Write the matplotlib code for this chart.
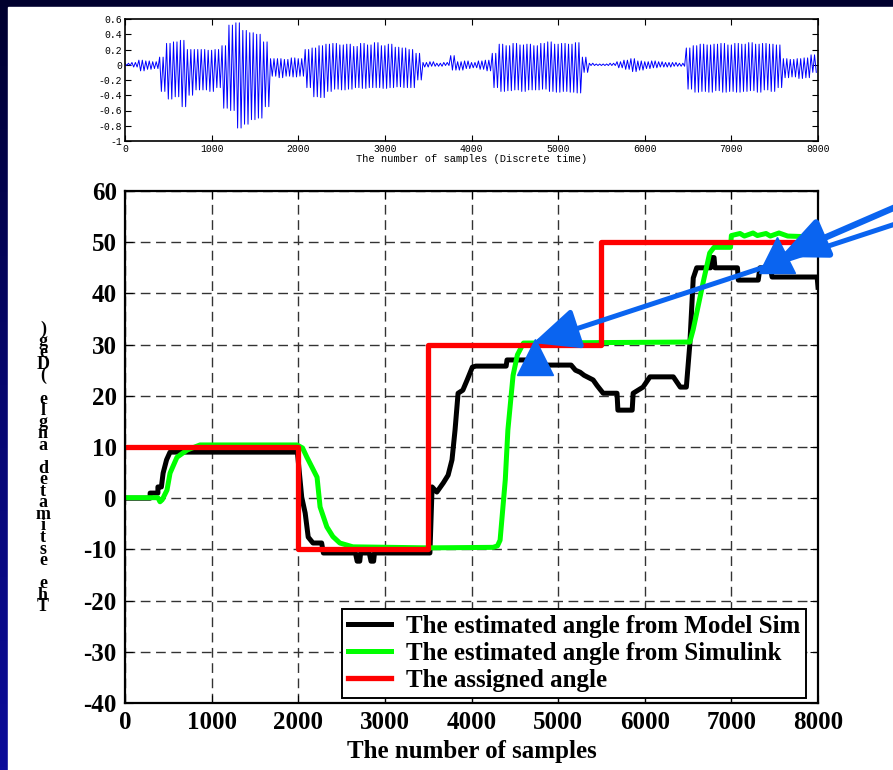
import matplotlib.pyplot as plt
import numpy as np
from matplotlib.patches import Rectangle

plt.rcParams['axes.unicode_minus'] = False

# speech waveform, upper / lower swing per 80-sample block
wave_hi = [0.02, 0.03, 0.06, 0.05, 0.04,
           0.10, 0.28, 0.30, 0.32, 0.20,
           0.20, 0.20, 0.19, 0.20,
           0.25, 0.52, 0.55, 0.45, 0.42, 0.40, 0.30,
           0.08,
           0.08, 0.07, 0.09, 0.08,
           0.20,
           0.22, 0.25, 0.27, 0.28, 0.26, 0.27, 0.24, 0.28, 0.26, 0.29, 0.25, 0.27, 0.23, 0.22, 0.20, 0.15,
           0.03, 0.04, 0.02, 0.03, 0.12,
           0.04, 0.05, 0.03, 0.05, 0.06,
           0.15, 0.27, 0.25, 0.28, 0.26, 0.27, 0.25, 0.28, 0.30, 0.27, 0.28, 0.27, 0.29, 0.10,
           0.02, 0.01, 0.01, 0.02,
           0.04, 0.06, 0.08, 0.05, 0.04, 0.05, 0.04, 0.03, 0.03, 0.02,
           0.22, 0.25, 0.27, 0.26, 0.27, 0.28, 0.26, 0.28, 0.27, 0.29, 0.27, 0.28, 0.27, 0.26,
           0.08, 0.07, 0.08, 0.09, 0.13]
wave_lo = [-0.01, -0.03, -0.08, -0.06, -0.05,
           -0.35, -0.45, -0.42, -0.55, -0.40,
           -0.33, -0.33, -0.35, -0.30,
           -0.57, -0.60, -0.83, -0.78, -0.72, -0.70, -0.55,
           -0.15,
           -0.17, -0.15, -0.16, -0.15,
           -0.30,
           -0.42, -0.43, -0.35, -0.32, -0.33, -0.32, -0.30, -0.31, -0.30, -0.30, -0.31, -0.30, -0.29, -0.30, -0.30, -0.20,
           -0.03, -0.02, -0.02, -0.01, -0.07,
           -0.07, -0.05, -0.04, -0.06, -0.08,
           -0.30, -0.35, -0.34, -0.33, -0.35, -0.33, -0.33, -0.32, -0.35, -0.36, -0.35, -0.36, -0.37, -0.10,
           -0.01, -0.01, -0.01, -0.01,
           -0.04, -0.06, -0.09, -0.07, -0.05, -0.04, -0.03, -0.03, -0.02, -0.02,
           -0.32, -0.36, -0.35, -0.36, -0.34, -0.36, -0.35, -0.36, -0.35, -0.34, -0.36, -0.33, -0.35, -0.30,
           -0.17, -0.16, -0.18, -0.17, -0.10]
block = 80

# estimated angle from ModelSim
ms_x = [0, 290, 290, 380, 380, 420, 440, 480, 520, 1990, 2040, 2080, 2115, 2170, 2270, 2290,
        2660, 2680, 2710, 2720, 2820, 2840, 2870, 2880, 3520, 3545, 3600, 3675, 3730, 3775,
        3810, 3845, 3900, 3950, 4010, 4050, 4400, 4410, 4800, 4810, 5150, 5200, 5254, 5300,
        5404, 5450, 5520, 5680, 5690, 5855, 5866, 5980, 6060, 6330, 6410, 6480, 6520, 6560,
        6600, 6760, 6770, 6800, 6810, 7070, 7080, 7310, 7330, 7450, 7470, 7990, 8000]
ms_y = [0, 0, 1, 1, 2.2, 2.2, 4.9, 7.5, 9, 9, 0.2, -2.9, -7.6, -8.75, -8.75, -10.7,
        -10.7, -12.3, -12.3, -10.7, -10.7, -12.3, -12.3, -10.7, -10.7, 2.2, 1.2, 3, 4.5, 7.5,
        13.3, 20.5, 21.1, 23.1, 25.6, 25.8, 25.8, 27, 27, 26, 26, 25, 24.6, 24,
        23.1, 22, 20.5, 20.5, 17.2, 17.2, 20.5, 21.7, 23.7, 23.7, 21.7, 21.7, 30, 43,
        45, 45, 47, 47, 45, 45, 42.6, 42.6, 45, 45, 43.2, 43.2, 41.2]

# estimated angle from Simulink
sl_x = [0, 380, 404, 430, 485, 520, 600, 716, 866, 1986, 2050, 2100, 2217, 2252, 2330, 2400,
        2480, 2630, 3500, 4250, 4300, 4330, 4390, 4420, 4480, 4530, 4600, 6520, 6560, 6600,
        6680, 6750, 6800, 6990, 7000, 7100, 7150, 7250, 7300, 7400, 7450, 7550, 7650, 8000]
sl_y = [0.1, 0.1, -0.7, -0.3, 1.6, 4.9, 8, 9.4, 10.4, 10.4, 9.8, 8, 4.1, -1.7, -5.6, -7.5,
        -8.75, -9.5, -9.7, -9.6, -9.3, -8.2, 3.6, 13.3, 24, 28, 30.3, 30.5, 33, 36.2,
        42.6, 47.9, 49, 49, 51.3, 51.7, 51.2, 51.8, 51.3, 51.7, 51.2, 51.8, 51.2, 51.0]

# assigned angle
ref_x = [0, 2000, 3500, 5500, 8000]
ref_y = [10, -10, 30, 50, 50]

labels = ['The estimated angle from Model Sim',
          'The estimated angle from Simulink',
          'The assigned angle']

# pointer arrows drawn on the slide (tail, tip) in data units of the lower plot
arrow_tails = [(9800, 63.5), (9800, 58.6)]
arrow_tips = [(7564, 47.1), (4711, 30.3)]
arrow_widths = [4.6, 3.6]
marker_x = [7529, 4734]
marker_y = [47.5, 27.5]

W, H = 893, 770
fig = plt.figure(figsize=(W / 100, H / 100), dpi=100)

# slide background
bg = fig.add_axes([0, 0, 1, 1])
grad = np.linspace(0, 1, 256).reshape(-1, 1)
bg.imshow(grad, cmap=plt.matplotlib.colors.LinearSegmentedColormap.from_list(
    'slide', ['#00002e', '#06066e', '#0c0c9a']), aspect='auto', extent=[0, W, H, 0])
bg.add_patch(Rectangle((8, 7), W - 8, H - 7, color='white'))
bg.set_xlim(0, W)
bg.set_ylim(H, 0)
bg.axis('off')

# top: speech signal, two swings per block
ax1 = fig.add_axes([125 / W, 1 - 141 / H, 693 / W, 122 / H])
n = len(wave_hi)
sig_x = np.arange(4 * n) * (block // 4)
sig_y = np.empty(4 * n)
sig_y[0::4] = wave_hi
sig_y[1::4] = wave_lo
sig_y[2::4] = wave_hi
sig_y[3::4] = wave_lo
ax1.plot(sig_x, sig_y, color='#0000ff', lw=0.7)
ax1.set_xlim(0, 8000)
ax1.set_ylim(-1, 0.6)
ax1.set_xticks(range(0, 8001, 1000))
ax1.set_yticks([0.6, 0.4, 0.2, 0, -0.2, -0.4, -0.6, -0.8, -1])
ax1.set_yticklabels(['0.6', '0.4', '0.2', '0', '-0.2', '-0.4', '-0.6', '-0.8', '-1'])
ax1.tick_params(direction='in', length=4, top=True, right=True, labelsize=7, pad=2)
for lab in ax1.get_xticklabels() + ax1.get_yticklabels():
    lab.set_family('Liberation Mono')
ax1.set_xlabel('The number of samples (Discrete time)', family='Liberation Mono',
               fontsize=7.5, labelpad=0)
for s in ax1.spines.values():
    s.set_linewidth(1.2)

# bottom: estimated angles
serif = 'Liberation Serif'
ax2 = fig.add_axes([125 / W, 1 - 703 / H, 693 / W, 512 / H])
ax2.plot(ms_x, ms_y, color='black', lw=3.6, label=labels[0], solid_joinstyle='round')
ax2.plot(sl_x, sl_y, color='#00ff00', lw=3.6, label=labels[1], solid_joinstyle='round')
ax2.plot(ref_x, ref_y, color='#ff0000', lw=3.8, drawstyle='steps-post', label=labels[2])
ax2.set_xlim(0, 8000)
ax2.set_ylim(-40, 60)
ax2.set_xticks(range(0, 8001, 1000))
ax2.set_yticks(range(-40, 61, 10))
ax2.grid(True, color='#333333', lw=1, linestyle=(0, (7, 4)))
ax2.tick_params(direction='in', length=6, top=True, right=True, labelsize=18, pad=6)
for lab in ax2.get_xticklabels() + ax2.get_yticklabels():
    lab.set_family(serif)
    lab.set_weight('bold')
for s in ax2.spines.values():
    s.set_linewidth(1.6)
ax2.set_xlabel('The number of samples', family=serif, weight='bold', fontsize=18, labelpad=4)
leg = ax2.legend(loc='lower right', bbox_to_anchor=(0.983, 0.01), borderaxespad=0,
                 prop={'family': serif, 'weight': 'bold', 'size': 18},
                 fancybox=False, framealpha=1, edgecolor='black', handlelength=1.7,
                 handletextpad=0.6, labelspacing=0.15, borderpad=0.25)
leg.get_frame().set_linewidth(1.4)

# pointer arrows
for (tx, ty), (hx, hy), w in zip(arrow_tails, arrow_tips, arrow_widths):
    ax2.annotate('', xy=(hx, hy), xytext=(tx, ty), annotation_clip=False,
                 arrowprops=dict(arrowstyle='-|>,head_length=2.0,head_width=0.9',
                                 mutation_scale=14, color='#0a64f0', lw=w,
                                 shrinkA=0, shrinkB=0))
ax2.plot(marker_x, marker_y, linestyle='none', marker='^', markersize=26,
         color='#0a64f0', clip_on=False, zorder=5)

# y label: upright characters stacked from bottom to top, as on the slide
ylabel = 'The estimated angle (Deg)'
fig.text(43 / W, 1 - 468 / H, '\n'.join(reversed(ylabel)), family=serif, weight='bold',
         fontsize=13, ha='center', va='center', multialignment='center', linespacing=0.58)

fig.savefig('out.png', dpi=100)
